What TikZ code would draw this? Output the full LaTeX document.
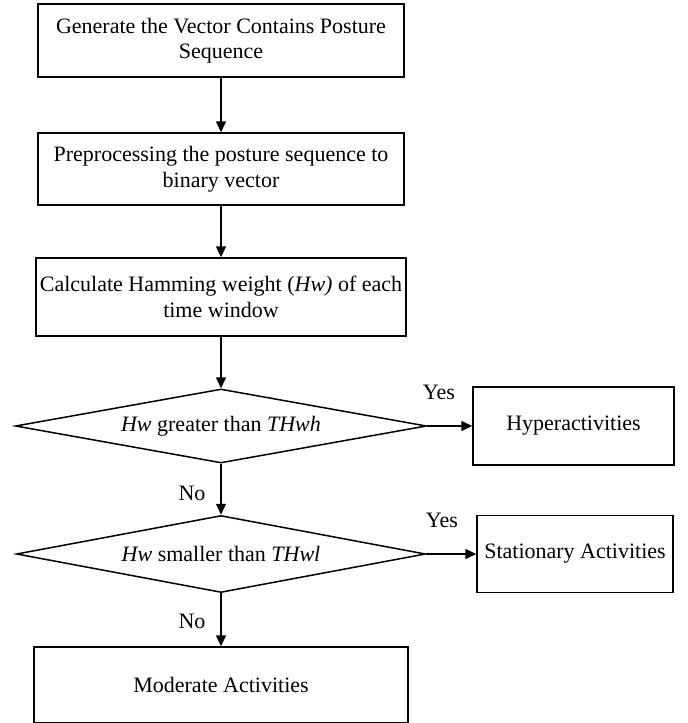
\documentclass[tikz,border=0pt]{standalone}
\usepackage{fontspec}
\setmainfont{Liberation Serif}
\usetikzlibrary{arrows.meta,shapes.geometric}
\begin{document}
\begin{tikzpicture}[x=1pt,y=-1pt,line width=1.5pt,
    font=\fontsize{22}{25.5}\selectfont,
    box/.style={draw,rectangle,align=center,inner sep=0pt},
    test/.style={draw,diamond,shape aspect=5.5,inner sep=0pt,align=center}]
      \useasboundingbox (0,0) rectangle (688,723);
      \draw
        (221,40.5) node[box,minimum width=366pt,minimum height=73pt] (0){Generate the Vector Contains Posture\\Sequence}
        (221,169) node[box,minimum width=366pt,minimum height=72pt] (1){Preprocessing the posture sequence to\\binary vector}
        (221,297) node[box,minimum width=370pt,minimum height=78pt] (2){Calculate Hamming weight (\textit{Hw)} of each\\time window}
        (221,426) node[test,minimum width=411pt,minimum height=74pt] (3){\textit{Hw} greater than \textit{THwh}}
        (573.5,426) node[box,minimum width=201pt,minimum height=78pt] (4){Hyperactivities}
        (221,554) node[test,minimum width=409pt,minimum height=77pt] (5){\textit{Hw} smaller than \textit{THwl}}
        (575,554) node[box,minimum width=196pt,minimum height=77pt] (6){Stationary Activities}
        (221,685) node[box,minimum width=374pt,minimum height=76pt] (7){Moderate Activities};
      \draw
        (439,392) node (y1){Yes}
        (442,520) node (y2){Yes}
        (192,493) node (n1){No}
        (192,621) node (n2){No};
      \begin{scope}[-{Triangle[length=11pt,width=10pt]}]
        \draw (0) to (1);
        \draw (1) to (2);
        \draw (2) to (3);
        \draw (3) to (4);
        \draw (3) to (5);
        \draw (5) to (6);
        \draw (5) to (7);
      \end{scope}
    \end{tikzpicture}
\end{document}
